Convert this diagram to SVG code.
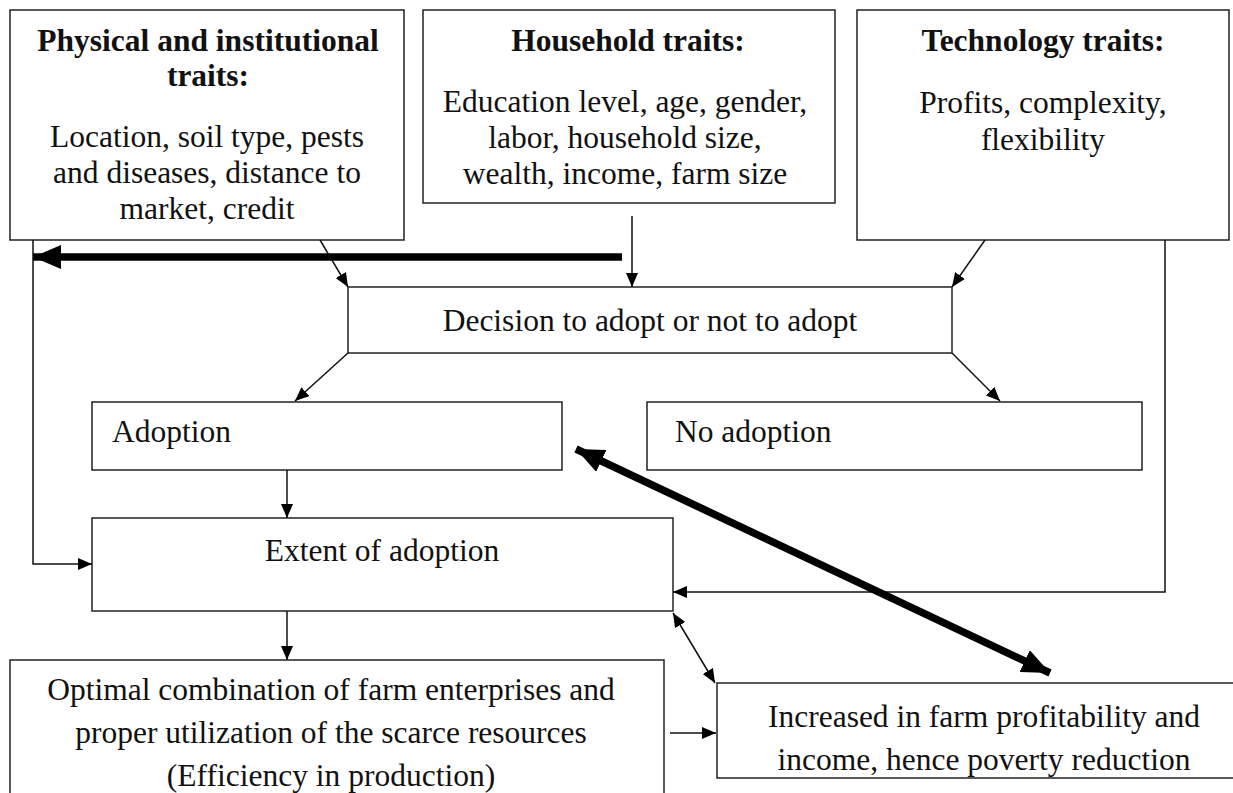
<svg xmlns="http://www.w3.org/2000/svg" width="1233" height="793" viewBox="0 0 1233 793">
<style>
.box{fill:#fff;stroke:#222;stroke-width:1.5}
.t{font-family:"Liberation Serif","Times New Roman",serif;font-size:31.5px;fill:#111;text-anchor:middle}
.b{font-weight:bold}
.l{text-anchor:start}
.c{fill:none;stroke:#111;stroke-width:1.5}
.k{fill:none;stroke:#000;stroke-width:7.5}
</style>
<defs>
<marker id="a" viewBox="0 0 14 12" refX="14" refY="6" markerWidth="14" markerHeight="12" markerUnits="userSpaceOnUse" orient="auto-start-reverse"><path d="M0,0 L14,6 L0,12 z" fill="#000"/></marker>
<marker id="ak" viewBox="0 0 28 24" refX="28" refY="12" markerWidth="28" markerHeight="24" markerUnits="userSpaceOnUse" orient="auto-start-reverse"><path d="M0,0 L28,12 L0,24 z" fill="#000"/></marker>
</defs>
<rect width="1233" height="793" fill="#fff"/>
<g id="physical">
<rect class="box" x="10" y="10" width="394" height="230"/>
<text class="t b" x="208" y="51">Physical and institutional</text>
<text class="t b" x="208" y="86">traits:</text>
<text class="t" x="207" y="147">Location, soil type, pests</text>
<text class="t" x="207" y="183">and diseases, distance to</text>
<text class="t" x="207" y="219">market, credit</text>
</g>
<g id="household">
<rect class="box" x="423" y="10" width="412" height="193"/>
<text class="t b" x="628" y="51">Household traits:</text>
<text class="t" x="625" y="112">Education level, age, gender,</text>
<text class="t" x="625" y="148">labor, household size,</text>
<text class="t" x="625" y="184">wealth, income, farm size</text>
</g>
<g id="technology">
<rect class="box" x="857" y="10" width="372" height="230"/>
<text class="t b" x="1043" y="51">Technology traits:</text>
<text class="t" x="1043" y="113">Profits, complexity,</text>
<text class="t" x="1043" y="150">flexibility</text>
</g>
<g id="decision">
<rect class="box" x="348" y="287" width="604" height="66"/>
<text class="t" x="650" y="331">Decision to adopt or not to adopt</text>
</g>
<g id="adoption">
<rect class="box" x="92" y="402" width="470" height="68"/>
<text class="t l" x="112" y="442">Adoption</text>
</g>
<g id="noadoption">
<rect class="box" x="647" y="402" width="495" height="68"/>
<text class="t l" x="675" y="442">No adoption</text>
</g>
<g id="extent">
<rect class="box" x="92" y="518" width="581" height="93"/>
<text class="t" x="382" y="561">Extent of adoption</text>
</g>
<g id="optimal">
<rect class="box" x="10" y="660" width="654" height="150"/>
<text class="t" x="331" y="700">Optimal combination of farm enterprises and</text>
<text class="t" x="331" y="743">proper utilization of the scarce resources</text>
<text class="t" x="331" y="786">(Efficiency in production)</text>
</g>
<g id="increased">
<rect class="box" x="717" y="683" width="520" height="95"/>
<text class="t" x="984" y="727">Increased in farm profitability and</text>
<text class="t" x="984" y="770">income, hence poverty reduction</text>
</g>
<g id="connectors">
<line class="k" x1="622" y1="257" x2="33" y2="257" marker-end="url(#ak)"/>
<line class="c" x1="632" y1="216" x2="632" y2="287" marker-end="url(#a)"/>
<line class="c" x1="320" y1="240" x2="348" y2="287" marker-end="url(#a)"/>
<line class="c" x1="985" y1="240" x2="952" y2="287" marker-end="url(#a)"/>
<line class="c" x1="348" y1="353" x2="295" y2="401" marker-end="url(#a)"/>
<line class="c" x1="952" y1="353" x2="1000" y2="401" marker-end="url(#a)"/>
<line class="c" x1="287" y1="470" x2="287" y2="518" marker-end="url(#a)"/>
<polyline class="c" points="33,240 33,564 92,564" marker-end="url(#a)"/>
<polyline class="c" points="1165,240 1165,592 673,592" marker-end="url(#a)"/>
<line class="k" x1="576" y1="449" x2="1050" y2="673" marker-start="url(#ak)" marker-end="url(#ak)"/>
<line class="c" x1="673" y1="613" x2="715" y2="683" marker-start="url(#a)" marker-end="url(#a)"/>
<line class="c" x1="287" y1="611" x2="287" y2="660" marker-end="url(#a)"/>
<line class="c" x1="670" y1="733" x2="716" y2="733" marker-end="url(#a)"/>
</g>
</svg>
